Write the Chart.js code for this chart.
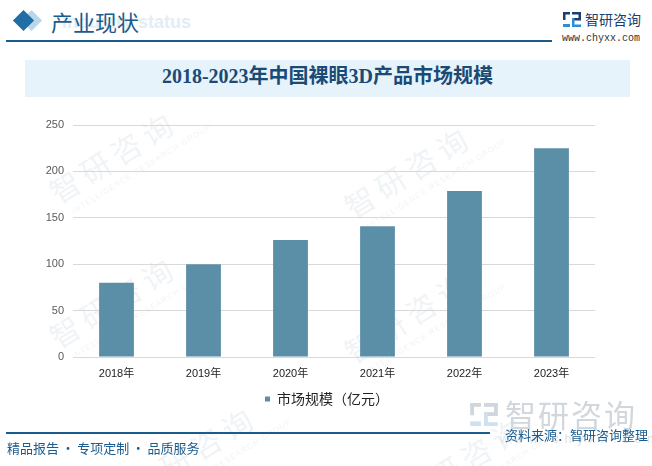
<!DOCTYPE html>
<html>
<head>
<meta charset="utf-8">
<script src="https://cdn.jsdelivr.net/npm/chart.js@4.4.0/dist/chart.umd.min.js"></script>
<style>
  html, body { margin: 0; padding: 0; }
  body { width: 652px; height: 466px; position: relative; overflow: hidden; background: #fff;
         font-family: 'Noto Sans CJK SC', 'Liberation Sans', sans-serif; }
  .abs { position: absolute; white-space: nowrap; }
  .wm { position: absolute; color: rgba(190, 202, 214, 0.22); font-size: 30px; transform: rotate(-32deg);
        transform-origin: left top; white-space: nowrap; letter-spacing: 6px; }
  .wm small { display: block; font-family: 'Liberation Sans', sans-serif; font-size: 8px; letter-spacing: 1px; margin-left: 8px; }
  #wrap { position: absolute; left: 0; top: 100px; width: 652px; height: 320px; }
</style>
</head>
<body>
  <!-- 배경 워터마크 -->
  <div class="wm" style="left:40px;top:175px;">智研咨询<small>INTELLIGENCE RESEARCH GROUP</small></div>
  <div class="wm" style="left:40px;top:320px;">智研咨询<small>INTELLIGENCE RESEARCH GROUP</small></div>
  <div class="wm" style="left:335px;top:190px;">智研咨询<small>INTELLIGENCE RESEARCH GROUP</small></div>
  <div class="wm" style="left:335px;top:335px;">智研咨询<small>INTELLIGENCE RESEARCH GROUP</small></div>
  <div class="wm" style="left:120px;top:470px;">智研咨询<small>INTELLIGENCE RESEARCH GROUP</small></div>
  <div class="wm" style="left:390px;top:480px;">智研咨询<small>INTELLIGENCE RESEARCH GROUP</small></div>

  <!-- 헤더 -->
  <div class="abs" style="left:24px;top:13px;width:15px;height:15px;background:#b9d7ec;transform:rotate(45deg);"></div>
  <div class="abs" style="left:16px;top:13px;width:15px;height:15px;background:#1f6ea6;transform:rotate(45deg);"></div>
  <div class="abs" style="left:62px;top:12px;font:bold 18px 'Liberation Sans',sans-serif;color:#e4edf4;">Industry status</div>
  <div class="abs" style="left:51px;top:5px;font-size:22px;color:#1b5c8e;line-height:32px;">产业现状</div>
  <div class="abs" style="left:6px;top:40px;width:546px;height:1.5px;background:#1b5c8e;"></div>
  <svg class="abs" style="left:563px;top:12px;" width="18" height="15" viewBox="0 0 18 15">
    <rect x="0" y="0" width="7" height="2.5" fill="#1b3e6e"/><rect x="0" y="0" width="2.5" height="8" fill="#1b3e6e"/>
    <rect x="0" y="12" width="7" height="3" fill="#2a8fd6"/><rect x="9" y="0" width="9" height="2.5" fill="#1b3e6e"/>
    <rect x="15.5" y="0" width="2.5" height="7" fill="#1b3e6e"/><rect x="9" y="6" width="9" height="2.5" fill="#1b3e6e"/>
    <rect x="9" y="6" width="2.5" height="9" fill="#2a8fd6"/><rect x="9" y="12.5" width="9" height="2.5" fill="#2a8fd6"/>
  </svg>
  <div class="abs" style="left:585px;top:9px;font-size:14px;color:#1b3e6e;line-height:20px;">智研咨询</div>
  <div class="abs" style="left:562px;top:33px;font:10px 'Liberation Mono',monospace;color:#333;">www.chyxx.com</div>

  <!-- 제목 -->
  <div class="abs" style="left:25px;top:60px;width:605px;height:37px;background:#e6f3fb;"></div>
  <div class="abs" style="left:25px;top:60px;width:605px;height:37px;line-height:37px;text-align:center;font:bold 20px 'Liberation Serif','Noto Sans CJK SC',serif;color:#1b4a75;">2018-2023年中国裸眼3D产品市场规模</div>

  <div id="wrap"><canvas id="c" width="652" height="320"></canvas></div>

  <!-- 푸터 -->
  <svg class="abs" style="left:470px;top:403px;" width="28" height="23" viewBox="0 0 18 15">
    <rect x="0" y="0" width="7" height="2.5" fill="#cfd6de"/><rect x="0" y="0" width="2.5" height="8" fill="#cfd6de"/>
    <rect x="0" y="12" width="7" height="3" fill="#cfe0ee"/><rect x="9" y="0" width="9" height="2.5" fill="#cfd6de"/>
    <rect x="15.5" y="0" width="2.5" height="7" fill="#cfd6de"/><rect x="9" y="6" width="9" height="2.5" fill="#cfd6de"/>
    <rect x="9" y="6" width="2.5" height="9" fill="#cfe0ee"/><rect x="9" y="12.5" width="9" height="2.5" fill="#cfe0ee"/>
  </svg>
  <div class="abs" style="left:505px;top:394px;font-size:31px;color:#d2d7dd;line-height:40px;letter-spacing:2px;">智研咨询</div>
  <div class="abs" style="left:500px;top:432px;font:12px 'Liberation Sans',sans-serif;color:#dde1e6;letter-spacing:6px;">www.chyxx.com</div>
  <div class="abs" style="left:6px;top:432px;width:484px;height:1.5px;background:#1b5c8e;"></div>
  <div class="abs" style="left:505px;top:426px;font-size:13px;color:#1b5c8e;line-height:18px;">资料来源：智研咨询整理</div>
  <div class="abs" style="left:7px;top:439px;font-size:13px;color:#1b5c8e;line-height:18px;">精品报告&thinsp;·&thinsp;专项定制&thinsp;·&thinsp;品质服务</div>

<script>
  // 연도별 시장 규모 데이터
  const years = ['2018年', '2019年', '2020年', '2021年', '2022年', '2023年'];
  const marketSize = [80, 100, 126, 141, 179, 225];
  const seriesName = '市场规模（亿元）';
  const yTicks = [0, 50, 100, 150, 200, 250];

  const tickFont = "'Liberation Sans', 'Noto Sans CJK SC', sans-serif";

  // 범례를 페이지 중앙 쪽으로 살짝 이동
  const legendShift = {
    id: 'legendShift',
    afterLayout: function(chart) {
      chart.legend.left += 13;
      chart.legend.right += 13;
    }
  };

  new Chart(document.getElementById('c'), {
    type: 'bar',
    data: {
      labels: years,
      datasets: [{
        label: seriesName,
        data: marketSize,
        backgroundColor: '#5b8fa8',
        barPercentage: 0.4,
        categoryPercentage: 1
      }]
    },
    options: {
      responsive: false,
      animation: false,
      layout: {
        padding: { left: 33, right: 57, top: 25, bottom: 4 }
      },
      plugins: {
        legend: {
          position: 'bottom',
          labels: {
            boxWidth: 5,
            boxHeight: 5,
            padding: 10,
            color: '#222',
            font: { size: 14, family: "'Noto Sans CJK SC', sans-serif" }
          }
        },
        tooltip: { enabled: false }
      },
      scales: {
        x: {
          grid: { display: false, drawTicks: false },
          border: { display: false },
          ticks: {
            color: '#222',
            padding: 10,
            font: { size: 11, family: tickFont }
          },
          afterFit: function(scale) { scale.height = 25; }
        },
        y: {
          min: yTicks[0],
          max: yTicks[yTicks.length - 1],
          grid: { color: '#d9d9d9', drawTicks: false },
          border: { display: false },
          ticks: {
            stepSize: 50,
            padding: 9,
            color: '#595959',
            font: { size: 11, family: tickFont }
          },
          afterBuildTicks: function(scale) {
            scale.ticks = yTicks.map(function(v) { return { value: v }; });
          },
          afterFit: function(scale) { scale.width = 40; }
        }
      }
    },
    plugins: [legendShift]
  });
</script>
</body>
</html>
